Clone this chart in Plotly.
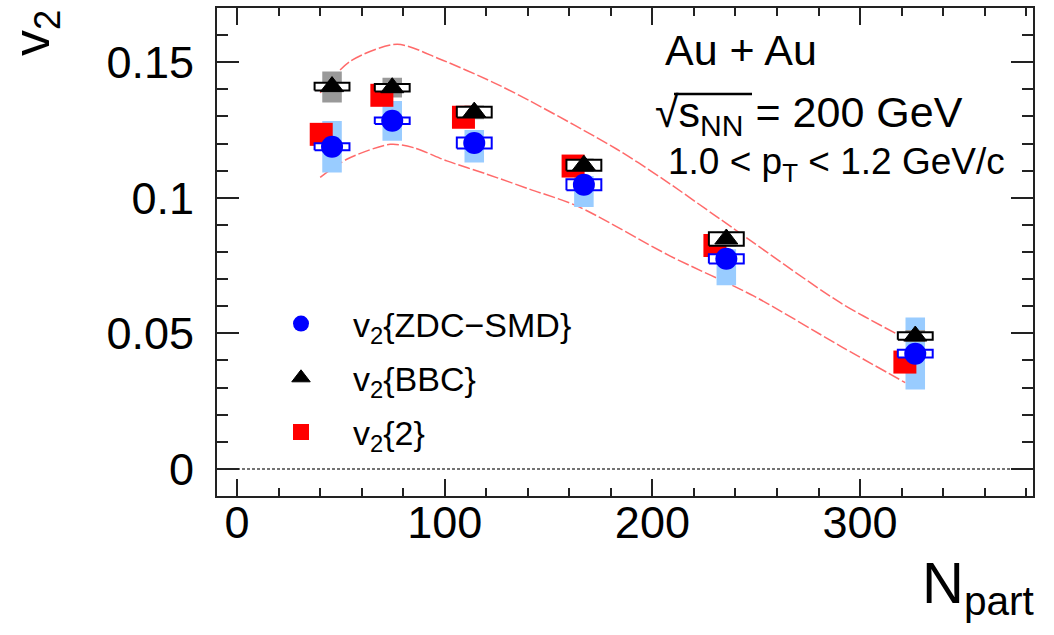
import plotly.graph_objects as go

# ---------------- data ----------------
npart = [45.7, 74.7, 114.2, 167.0, 235.6, 326.6]          # ZDC-SMD and BBC points
npart_v22 = [40.5, 69.7, 109.0, 161.8, 230.1, 321.6]      # v2{2} points (shifted)
v2_zdc = [0.1188, 0.1284, 0.1202, 0.1048, 0.0775, 0.0425]
v2_bbc = [0.1410, 0.1406, 0.1316, 0.1120, 0.0848, 0.0490]
v2_two = [0.1234, 0.1378, 0.1297, 0.1117, 0.0824, 0.0394]

zdc_sys_lo = [0.1093, 0.1210, 0.1130, 0.0966, 0.0677, 0.0293]
zdc_sys_hi = [0.1283, 0.1357, 0.1250, 0.1080, 0.0810, 0.0558]
bbc_sys_lo = [0.1351, 0.1370, 0.1290, 0.1095, 0.0820, 0.0468]
bbc_sys_hi = [0.1466, 0.1443, 0.1340, 0.1145, 0.0875, 0.0512]
zdc_box_half = [0.0013, 0.0012, 0.0020, 0.0020, 0.0017, 0.0014]
bbc_box_half = [0.0014, 0.0014, 0.0020, 0.0020, 0.0025, 0.0014]

band_upper_x = [40.0, 54.4, 77.0, 97.8, 123.5, 141.1, 182.9, 205.3, 232.7, 290.5, 319.4, 321.8]
band_upper_y = [0.1387, 0.1503, 0.1566, 0.1511, 0.1425, 0.1357, 0.1179, 0.1068, 0.0921, 0.0613, 0.0490, 0.0478]
band_lower_x = [40.0, 52.8, 73.7, 84.9, 101.0, 120.3, 141.1, 163.6, 208.6, 248.7, 290.5, 321.8]
band_lower_y = [0.1075, 0.1142, 0.1197, 0.1185, 0.1136, 0.1087, 0.1031, 0.0970, 0.0785, 0.0638, 0.0453, 0.0318]

x_ticks = [0, 100, 200, 300]
y_ticks = [0, 0.05, 0.1, 0.15]

# ---------------- styles ----------------
FONT = "Liberation Sans, Arial, Helvetica, sans-serif"
BAND_HW = 4.7     # half width of filled systematic bands (Npart units)
BOX_HW = 8.4      # half width of open boxes


def boxes(xc, lo, hi, hw):
    xs, ys = [], []
    for x, l, h in zip(xc, lo, hi):
        xs += [x - hw, x + hw, x + hw, x - hw, x - hw, None]
        ys += [l, l, h, h, l, None]
    return xs, ys


fig = go.Figure()

# model curves
for cx, cy in ((band_upper_x, band_upper_y), (band_lower_x, band_lower_y)):
    fig.add_trace(go.Scatter(x=cx, y=cy, mode="lines", line_shape="spline",
                             line=dict(color="rgba(255,80,80,0.85)", width=1.5, dash="12px,3px",
                                       smoothing=0.8),
                             showlegend=False, hoverinfo="skip"))

# filled systematic bands
bx, by = boxes(npart, zdc_sys_lo, zdc_sys_hi, BAND_HW)
fig.add_trace(go.Scatter(x=bx, y=by, mode="lines", fill="toself", fillcolor="#99ccff",
                         line=dict(width=0, color="#99ccff"), showlegend=False, hoverinfo="skip"))
bx, by = boxes(npart, bbc_sys_lo, bbc_sys_hi, BAND_HW)
fig.add_trace(go.Scatter(x=bx, y=by, mode="lines", fill="toself", fillcolor="#999999",
                         line=dict(width=0, color="#999999"), showlegend=False, hoverinfo="skip"))

# v2{2} squares
fig.add_trace(go.Scatter(x=npart_v22, y=v2_two, mode="markers", name="v<sub>2</sub>{2}",
                         marker=dict(symbol="square", size=23, color="#ff0000", line=dict(width=0)),
                         legendgroup="c", legendrank=3))

# open boxes
bx, by = boxes(npart, [v - h for v, h in zip(v2_bbc, bbc_box_half)],
               [v + h for v, h in zip(v2_bbc, bbc_box_half)], BOX_HW)
fig.add_trace(go.Scatter(x=bx, y=by, mode="lines", fill="toself", fillcolor="white",
                         line=dict(width=2, color="black"), showlegend=False, hoverinfo="skip"))
bx, by = boxes(npart, [v - h for v, h in zip(v2_zdc, zdc_box_half)],
               [v + h for v, h in zip(v2_zdc, zdc_box_half)], BOX_HW)
fig.add_trace(go.Scatter(x=bx, y=by, mode="lines", fill="toself", fillcolor="white",
                         line=dict(width=2, color="#0000ff"), showlegend=False, hoverinfo="skip"))

# markers
fig.add_trace(go.Scatter(x=npart, y=v2_zdc, mode="markers", name="v<sub>2</sub>{ZDC\u2212SMD}",
                         marker=dict(symbol="circle", size=22, color="#0000ff", line=dict(width=0)),
                         legendgroup="a", legendrank=1))
fig.add_trace(go.Scatter(x=npart, y=v2_bbc, mode="markers", name="v<sub>2</sub>{BBC}",
                         marker=dict(symbol="triangle-up", size=20, color="black",
                                     line=dict(width=1, color="black")),
                         legendgroup="b", legendrank=2))

axis_common = dict(showgrid=False, zeroline=False, showline=True, linecolor="#222222", linewidth=2,
                   mirror="allticks", ticks="inside", tickcolor="#222222", tickwidth=2,
                   tickfont=dict(family=FONT, size=45, color="black"))

fig.update_xaxes(range=[-9.7, 383.3], tickvals=x_ticks, ticktext=[str(v) for v in x_ticks],
                 ticklen=17, minor=dict(dtick=20, tick0=0, ticks="inside", ticklen=8,
                                        tickwidth=2, tickcolor="#222222"),
                 ticklabelstandoff=-14, **axis_common)
fig.update_yaxes(range=[-0.01, 0.17], tickvals=y_ticks, ticktext=["0", "0.05", "0.1", "0.15"],
                 ticklen=22, minor=dict(dtick=0.01, tick0=0, ticks="inside", ticklen=11,
                                        tickwidth=2, tickcolor="#222222"),
                 ticklabelstandoff=12, **axis_common)

L, R, T, B = 217, 21, 8, 139
W, H = 1054, 635
pw, ph = W - L - R, H - T - B


def px2paper(px, py):
    return (px - L) / pw, (H - B - py) / ph


annots = []
x0, y0 = px2paper(663, 50)
annots.append(dict(x=x0, y=y0, text="Au + Au", xanchor="left", yanchor="middle",
                   font=dict(size=43)))
x0, y0 = px2paper(653, 132)
annots.append(dict(x=x0, y=y0, text="\u221as<sub>NN</sub> = 200 GeV", xanchor="left",
                   yanchor="bottom", font=dict(size=43), yshift=-12))
x0, y0 = px2paper(666, 164)
annots.append(dict(x=x0, y=y0, text="1.0 < p<sub>T</sub> < 1.2 GeV/c", xanchor="left",
                   yanchor="middle", font=dict(size=37)))
x0, y0 = px2paper(35, 33)
annots.append(dict(x=x0, y=y0, text="v<sub>2</sub>", textangle=-90, xanchor="center",
                   yanchor="middle", font=dict(size=52)))
x0, y0 = px2paper(1036, 548)
annots.append(dict(x=x0, y=y0, text="N<sub>part</sub>", xanchor="right", yanchor="top",
                   font=dict(size=58)))
for a in annots:
    a.update(xref="paper", yref="paper", showarrow=False)
    a["font"].update(family=FONT, color="black")

ox0, oy = px2paper(674, 94)
ox1, _ = px2paper(752, 94)
fig.update_layout(
    width=W, height=H, margin=dict(l=L, r=R, t=T, b=B, autoexpand=False),
    paper_bgcolor="white", plot_bgcolor="white",
    annotations=annots,
    shapes=[
        dict(type="line", xref="paper", yref="y", x0=0, x1=1, y0=0, y1=0,
             line=dict(color="#444444", width=1.5, dash="3px,2px"), layer="below"),
        dict(type="line", xref="paper", yref="paper", x0=ox0, x1=ox1, y0=oy, y1=oy,
             line=dict(color="black", width=2.5)),
    ],
    legend=dict(x=px2paper(249, 0)[0], y=px2paper(0, 295)[1], xanchor="left", yanchor="top",
                bgcolor="rgba(0,0,0,0)", font=dict(family=FONT, size=34, color="black"),
                tracegroupgap=7, itemwidth=94, traceorder="grouped"),
    showlegend=True,
)

fig.write_html("out.html")
